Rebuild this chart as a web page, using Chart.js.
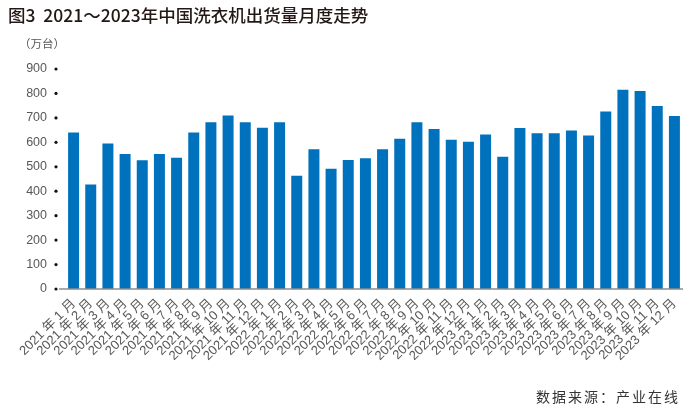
<!DOCTYPE html>
<html>
<head>
<meta charset="utf-8">
<script src="https://cdn.jsdelivr.net/npm/chart.js@4/dist/chart.umd.min.js"></script>
<style>
    body { margin: 0; background: #fff; }
    #wrap { position: relative; width: 700px; height: 408px; }
    #title {
        position: absolute; left: 8px; top: 2px;
        font: 500 17.5px "Noto Sans CJK SC", "Liberation Sans", sans-serif;
        color: #231815; white-space: nowrap;
    }
    #unit {
        position: absolute; left: 19px; top: 35px;
        font: 11.5px "Noto Sans CJK SC", sans-serif; color: #595757;
    }
    #source {
        position: absolute; right: 20px; top: 386px;
        font: 14px "Noto Sans CJK SC", sans-serif; color: #333;
        letter-spacing: 2px;
    }
</style>
</head>
<body>
<div id="wrap">
    <canvas id="chart" width="700" height="408"></canvas>
    <div id="title">图3&nbsp;&nbsp;2021～2023年中国洗衣机出货量月度走势</div>
    <div id="unit">（万台）</div>
    <div id="source">数据来源：产业在线</div>
</div>
<script>
// Months and shipments (10k units)
const years = ['2021', '2022', '2023'];
const months = [1, 2, 3, 4, 5, 6, 7, 8, 9, 10, 11, 12];
const shipments = [
    640, 428, 595, 552, 527, 552, 537, 640, 682, 710, 682, 660,
    682, 463, 572, 492, 528, 535, 572, 615, 682, 655, 611, 602,
    632, 541, 659, 637, 637, 648, 628, 726, 815, 810, 749, 708
];
const yTicks = [0, 100, 200, 300, 400, 500, 600, 700, 800, 900];

const labels = [];
years.forEach(y => months.forEach(m => labels.push(y + ' 年 ' + m + ' 月')));

// Draw the black dots beside y ticks and the grey base line
const axisDecor = {
    id: 'axisDecor',
    afterDraw(chart) {
        const ctx = chart.ctx;
        const yScale = chart.scales.y;
        const area = chart.chartArea;
        ctx.save();
        ctx.strokeStyle = '#8c8c8c';
        ctx.lineWidth = 1.5;
        ctx.beginPath();
        ctx.moveTo(59, yScale.getPixelForValue(0));
        ctx.lineTo(area.right, yScale.getPixelForValue(0));
        ctx.stroke();
        ctx.fillStyle = '#111';
        yTicks.forEach(v => {
            ctx.beginPath();
            ctx.arc(56, yScale.getPixelForValue(v), 1.6, 0, Math.PI * 2);
            ctx.fill();
        });
        ctx.restore();
    }
};

new Chart(document.getElementById('chart'), {
    type: 'bar',
    data: {
        labels: labels,
        datasets: [{
            data: shipments,
            backgroundColor: '#0071bc',
            borderWidth: 0,
            barPercentage: 0.64,
            categoryPercentage: 1
        }]
    },
    options: {
        responsive: false,
        animation: false,
        layout: { padding: { top: 69, right: 17, left: 0, bottom: 0 } },
        plugins: {
            legend: { display: false },
            tooltip: { enabled: false }
        },
        scales: {
            x: {
                grid: { display: false, drawTicks: false },
                border: { display: false },
                ticks: {
                    autoSkip: false,
                    minRotation: 45,
                    maxRotation: 45,
                    padding: 7,
                    color: '#595757',
                    font: { family: '"Liberation Sans", "Noto Sans CJK SC", sans-serif', size: 13 }
                },
                afterFit(scale) { scale.height = 119; }
            },
            y: {
                min: 0,
                max: 900,
                grid: { display: false, drawTicks: false },
                border: { display: false },
                afterBuildTicks(scale) { scale.ticks = yTicks.map(v => ({ value: v })); },
                ticks: {
                    padding: 18,
                    color: '#595757',
                    font: { family: '"Liberation Sans", sans-serif', size: 12.5 }
                },
                afterFit(scale) { scale.width = 65; }
            }
        }
    },
    plugins: [axisDecor]
});
</script>
</body>
</html>
